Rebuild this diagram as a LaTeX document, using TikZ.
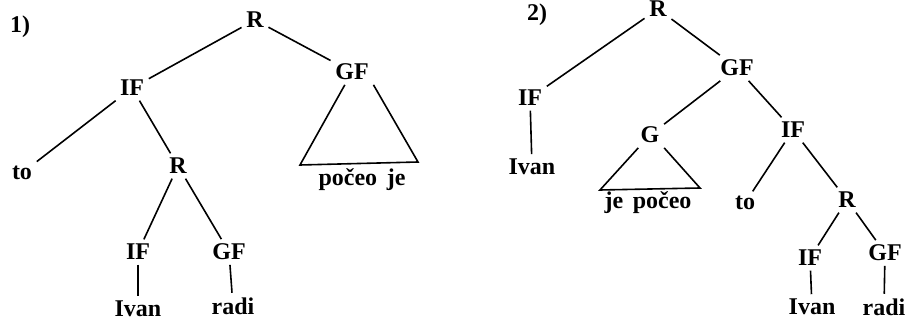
\documentclass[tikz,border=0pt]{standalone}
\usepackage{fontspec}
\setmainfont{Liberation Serif}

\begin{document}
\begin{tikzpicture}[x=0.5pt,y=-0.5pt,line width=0.8pt,
  lbl/.style={font=\bfseries\fontsize{12}{14}\selectfont,inner sep=2pt}]
  \useasboundingbox (0,0) rectangle (905,320);
  % first tree
  \node[lbl] (numa) at (20,27) {1)};
  \node[lbl] (ra) at (255,20) {R};
  \node[lbl] (ifa) at (132,88) {IF};
  \node[lbl] (gfa) at (352,72) {GF};
  \node[lbl] (toa) at (22,173) {to};
  \node[lbl] (rb) at (178,166) {R};
  \node[lbl] (ifb) at (138,252) {IF};
  \node[lbl] (gfb) at (229,252) {GF};
  \node[lbl] (ivana) at (138,309) {Ivan};
  \node[lbl] (radia) at (233,306) {radi};
  \node[lbl] (pja) at (362,180) {počeo\hspace{0.4em}je};
  \coordinate (tla) at (300,165);
  \coordinate (tra) at (418,162);
  \draw (ra) -- (ifa);
  \draw (ra) -- (gfa);
  \draw (ifa) -- (toa);
  \draw (ifa) -- (rb);
  \draw (rb) -- (ifb);
  \draw (rb) -- (gfb);
  \draw (ifb) -- (ivana);
  \draw (gfb) -- (radia);
  \draw (gfa) -- (tla) -- (tra) -- (gfa.south east);
  % second tree
  \node[lbl] (numb) at (537,15) {2)};
  \node[lbl] (rc) at (658,9) {R};
  \node[lbl] (ifc) at (530,98) {IF};
  \node[lbl] (gfc) at (737,68) {GF};
  \node[lbl] (ivanb) at (532,167) {Ivan};
  \node[lbl] (gc) at (650,135) {G};
  \node[lbl] (ifd) at (793,130) {IF};
  \node[lbl] (jpb) at (648,203) {je\hspace{0.4em}počeo};
  \node[lbl] (tob) at (745,203) {to};
  \node[lbl] (rd) at (847,200) {R};
  \node[lbl] (ife) at (810,258) {IF};
  \node[lbl] (gfd) at (885,253) {GF};
  \node[lbl] (ivanc) at (812,307) {Ivan};
  \node[lbl] (radib) at (884,307) {radi};
  \coordinate (tlb) at (600,190);
  \coordinate (trb) at (700,188);
  \draw (rc) -- (ifc);
  \draw (rc) -- (gfc);
  \draw (ifc) -- (ivanb);
  \draw (gfc) -- (gc);
  \draw (gfc) -- (ifd);
  \draw (gc) -- (tlb) -- (trb) -- (gc.south east);
  \draw (ifd) -- (tob);
  \draw (ifd) -- (rd);
  \draw (rd) -- (ife);
  \draw (rd) -- (gfd);
  \draw (ife) -- (ivanc);
  \draw (gfd) -- (radib);
\end{tikzpicture}
\end{document}
